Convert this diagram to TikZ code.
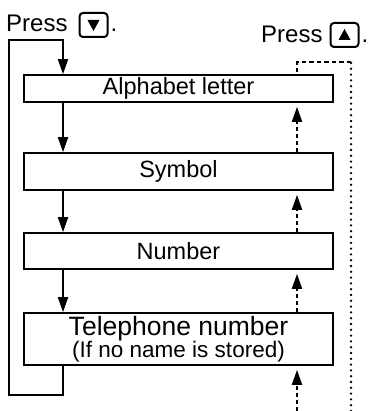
\documentclass[tikz,border=0pt]{standalone}
\usepackage{fontspec}
\setmainfont{Liberation Sans}
\usetikzlibrary{arrows.meta,calc}
\begin{document}
\begin{tikzpicture}[x=1pt,y=-1pt,
  box/.style={draw, line width=1.7pt, minimum width=309pt, inner sep=0pt, anchor=center, font=\fontsize{23.5}{25}\selectfont},
  keybox/.style={draw, line width=2pt, rounded corners=3.5pt, minimum width=28pt, minimum height=24pt, inner sep=0pt},
  presstxt/.style={anchor=base west, inner sep=0pt, font=\fontsize{24}{26}\selectfont},
  conn/.style={line width=1.9pt},
  downarr/.style={conn, -{Triangle[length=15pt,width=10pt]}},
  uparr/.style={line width=2pt, dash pattern=on 4pt off 3pt, -{Triangle[length=15pt,width=10pt]}, shorten >=4pt},
  dotline/.style={line width=2.6pt, line cap=round, dash pattern=on 0pt off 5.8pt},
  dashline/.style={line width=2.2pt, dash pattern=on 4.5pt off 3pt}
]
\useasboundingbox (0,0) rectangle (369,411);

% boxes
\node[box, minimum height=27pt] (b1) at (178.5,88.5) {Alphabet letter};
\node[box, minimum height=37pt] (b2) at (178.5,171.5) {Symbol};
\node[box, minimum height=36pt] (b3) at (178.5,251) {Number};
\node[box, minimum height=52pt, align=center] (b4) at (178.5,339)
  {{\fontsize{26.5}{26}\selectfont Telephone number}\\[-3pt]{\fontsize{22.5}{22}\selectfont (If no name is stored)}};

% reference columns
\coordinate (dx) at (63,0);
\coordinate (ux) at (297,0);

% down arrows
\draw[downarr] (b1.south -| dx) -- (b2.north -| dx);
\draw[downarr] (b2.south -| dx) -- (b3.north -| dx);
\draw[downarr] (b3.south -| dx) -- (b4.north -| dx);

% loop back
\coordinate (lb) at (9,395);
\coordinate (lt) at (9,40);
\draw[downarr] (b4.south -| dx) |- (lb) -- (lt) -| (b1.north -| dx);

% up arrows
\draw[uparr] (b2.north -| ux) -- (b1.south -| ux);
\draw[uparr] (b3.north -| ux) -- (b2.south -| ux);
\draw[uparr] (b4.north -| ux) -- (b3.south -| ux);
\coordinate (ub) at (297,411);
\draw[uparr] (ub) -- (b4.south -| ux);

% dotted return
\coordinate (rt) at (351,62);
\coordinate (rb) at (351,411);
\coordinate (ut) at (297,62);
\draw[dotline] (rb) -- (rt);
\draw[dashline] (rt) -- (ut) -- (b1.north -| ut);

% Press labels
\node[presstxt] (p1) at (6,32) {Press};
\node[keybox] (k1) at (93.5,25) {};
\fill ($(k1.center)+(-6,-5)$) -- ($(k1.center)+(6,-5)$) -- ($(k1.center)+(0,6)$) -- cycle;
\node[presstxt] (d1) at ($(k1.east |- p1.base)+(2,0)$) {.};

\node[presstxt] (p2) at (261,43) {Press};
\node[keybox] (k2) at (344.5,35) {};
\fill ($(k2.center)+(-6,5)$) -- ($(k2.center)+(6,5)$) -- ($(k2.center)+(0,-6)$) -- cycle;
\node[presstxt] (d2) at ($(k2.east |- p2.base)+(2,0)$) {.};
\end{tikzpicture}
\end{document}
